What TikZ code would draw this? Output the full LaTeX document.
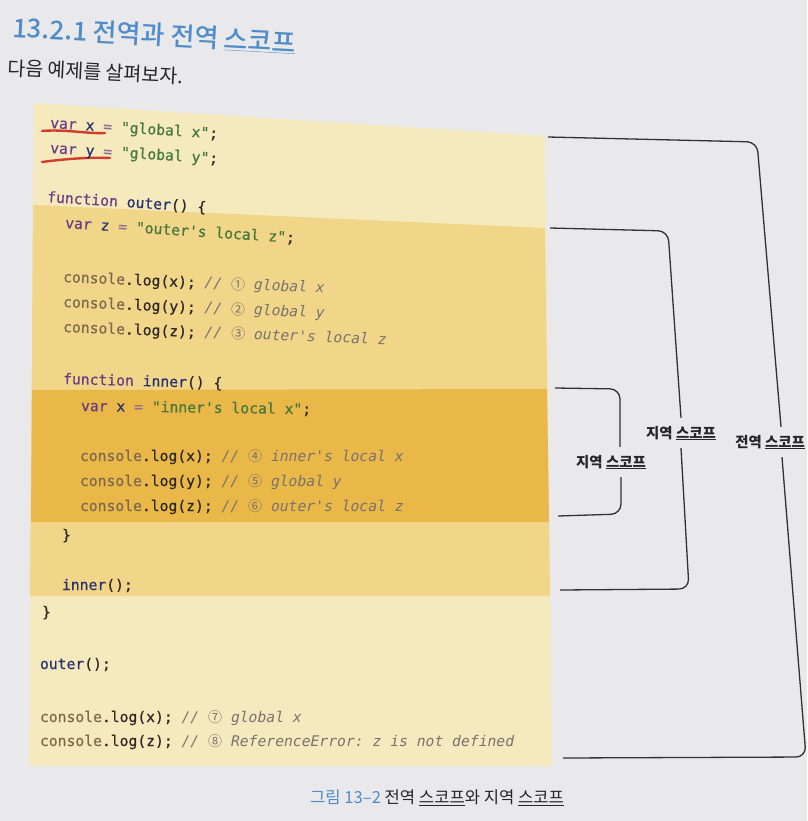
\documentclass[tikz,border=0pt]{standalone}
\usepackage{fontspec}
\setmonofont{DejaVu Sans Mono}[UprightFeatures={FakeBold=0.6}]
\newfontfamily\kr{Noto Sans CJK KR}
\newfontfamily\krm{Noto Sans CJK KR Medium}
\definecolor{pagebg}{RGB}{233,233,236}
\definecolor{globalc}{RGB}{245,233,190}
\definecolor{outerc}{RGB}{241,214,138}
\definecolor{innerc}{RGB}{233,184,72}
\definecolor{kwc}{RGB}{110,60,130}
\definecolor{idc}{RGB}{40,50,110}
\definecolor{eqc}{RGB}{140,110,150}
\definecolor{strc}{RGB}{70,120,60}
\definecolor{cnsc}{RGB}{125,105,75}
\definecolor{txtc}{RGB}{45,40,35}
\definecolor{cmc}{RGB}{120,115,110}
\definecolor{brkc}{RGB}{50,50,50}
\definecolor{redc}{RGB}{210,60,45}
\definecolor{titleblue}{RGB}{80,140,200}
\newcommand\codefont{\ttfamily\fontsize{14.7}{17}\selectfont}
\newcommand\K[1]{\textcolor{kwc}{#1}}
\newcommand\I[1]{\textcolor{idc}{#1}}
\newcommand\Eq{\textcolor{eqc}{=}}
\newcommand\Sg[1]{\textcolor{strc}{#1}}
\newcommand\Cn{\textcolor{cnsc}{console}}
\newcommand\cnum[1]{{\kr\upshape\fontsize{14}{16}\selectfont #1}}
\newcommand\Cm[2]{\textcolor{cmc}{\itshape // \cnum{#1} #2}}
\begin{document}
\begin{tikzpicture}[x=1pt,y=-1pt,
  codeln/.style={anchor=base west, inner sep=0pt, outer sep=0pt, font=\codefont, text=txtc},
  scopelbl/.style={font=\kr\bfseries\fontsize{14.4}{16}\selectfont, text=black!85, inner sep=0pt, minimum height=30pt},
  brk/.style={draw=brkc, line width=1.3pt, rounded corners=10pt},
  redpen/.style={draw=redc, line width=2.4pt, line cap=round}]
\useasboundingbox (0,0) rectangle (807,821);
\fill[pagebg] (0,0) rectangle (807,821);

% title and subtitle
\node[anchor=base west, inner sep=0pt, rotate=-3.1, text=titleblue,
      font=\krm\fontsize{26}{30}\selectfont] (title) at (12,37) {13.2.1 전역과 전역 \underline{스코프}};
\node[anchor=base west, inner sep=0pt, rotate=-2.8, text=black!85,
      font=\kr\fontsize{19.5}{22}\selectfont] (sub) at (7,75) {다음 예제를 살펴보자.};

% code bands
\fill[globalc] (34,103) -- (545,136) -- (552,766) -- (29,766) -- cycle;
\fill[outerc] (33,205) -- (545,228) -- (550,596) -- (30,596) -- cycle;
\fill[innerc] (32,390) -- (547,389) -- (549,522) -- (31,522) -- cycle;

% red pen marks
\draw[redpen] (42,131) .. controls (65,129) and (88,134) .. (105,133);
\draw[redpen] (42,162) .. controls (65,159) and (90,157) .. (110,158);

% code lines
\node[codeln, rotate=-3.6] (c1) at (50,128) {\K{var} \I{x} \Eq{} \Sg{"global x"};};
\node[codeln, rotate=-3.6] (c2) at (50,153) {\K{var} \I{y} \Eq{} \Sg{"global y"};};
\node[codeln, rotate=-3.7] (c3) at (47,202) {\K{function} \I{outer}() \{};
\node[codeln, rotate=-3.7] (c4) at (65,228) {\K{var} \I{z} \Eq{} \Sg{"outer's local z"};};
\node[codeln, rotate=-2.4] (c5) at (63,282) {\Cn.log(x); \Cm{①}{global x}};
\node[codeln, rotate=-2.4] (c6) at (63,307) {\Cn.log(y); \Cm{②}{global y}};
\node[codeln, rotate=-2.2] (c7) at (63,332) {\Cn.log(z); \Cm{③}{outer's local z}};
\node[codeln, rotate=-1.5] (c8) at (63,384) {\K{function} \I{inner}() \{};
\node[codeln, rotate=-0.8] (c9) at (81,411) {\K{var} \I{x} \Eq{} \Sg{"inner's local x"};};
\node[codeln] (c10) at (80,461) {\Cn.log(x); \Cm{④}{inner's local x}};
\node[codeln] (c11) at (80,486) {\Cn.log(y); \Cm{⑤}{global y}};
\node[codeln] (c12) at (80,511) {\Cn.log(z); \Cm{⑥}{outer's local z}};
\node[codeln] (c13) at (62,540) {\}};
\node[codeln] (c14) at (62,590) {\I{inner}();};
\node[codeln] (c15) at (42,617) {\}};
\node[codeln] (c16) at (40,669) {\I{outer}();};
\node[codeln] (c17) at (40,722) {\Cn.log(x); \Cm{⑦}{global x}};
\node[codeln] (c18) at (40,746) {\Cn.log(z); \Cm{⑧}{ReferenceError: z is not defined}};

% scope labels
\node[scopelbl] (ilab) at (611,462) {지역 \underline{스코프}};
\node[scopelbl] (olab) at (681,433) {지역 \underline{스코프}};
\node[scopelbl, anchor=east] (glab) at (805,442) {전역 \underline{스코프}};

% bracket corner points
\coordinate (g1) at (548,137);
\coordinate (g2) at (757,142);
\coordinate (ga) at (781,427);
\coordinate (gb) at (782,457);
\coordinate (g3) at (806,757);
\coordinate (g4) at (563,758);
\coordinate (o1) at (550,228);
\coordinate (o2) at (668,231);
\coordinate (o3) at (689,589);
\coordinate (o4) at (560,590);
\coordinate (i1) at (555,388);
\coordinate (i2) at (620,389);
\coordinate (i3) at (621,514);
\coordinate (i4) at (558,516);

% brackets
\draw[brk] (g1) -- (g2) -- (ga |- glab.north);
\draw[brk] (gb |- glab.south) -- (g3) -- (g4);
\draw[brk] (o1) -- (o2) -- (olab.north);
\draw[brk] (olab.south) -- (o3) -- (o4);
\draw[brk] (i1) -- (i2) -- (i2 |- ilab.north);
\draw[brk] (i3 |- ilab.south) -- (i3) -- (i4);

% caption
\node[anchor=west, inner sep=0pt, text=black!85, font=\kr\fontsize{16.6}{19}\selectfont] (cap) at (310,798)
  {\textcolor{titleblue}{그림 13–2} 전역 \underline{스코프}와 지역 \underline{스코프}};
\end{tikzpicture}
\end{document}
